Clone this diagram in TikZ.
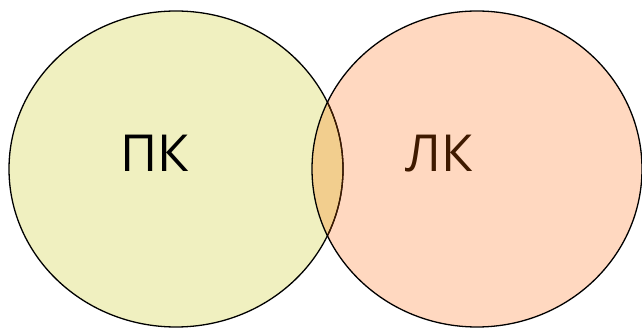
\documentclass[tikz,border=0pt]{standalone}
\usepackage{fontspec}
\setmainfont{Open Sans}
\definecolor{lfill}{HTML}{F0F0C0}
\definecolor{rfill}{HTML}{FFD8C0}
\definecolor{ofill}{HTML}{F2CE8E}
\definecolor{brn}{HTML}{3F1A00}
\begin{document}
\begin{tikzpicture}[x=1pt,y=-1pt,
  lbl/.style={font=\fontsize{51}{51}\selectfont, inner sep=0pt, anchor=base}]
\useasboundingbox (0,0) rectangle (642,328);
\fill[lfill] (176,169) ellipse [x radius=167, y radius=158];
\fill[rfill] (477,169) ellipse [x radius=165, y radius=158];
\begin{scope}
  \clip (176,169) ellipse [x radius=167, y radius=158];
  \fill[ofill] (477,169) ellipse [x radius=165, y radius=158];
\end{scope}
\draw[line width=1.3pt] (176,169) ellipse [x radius=167, y radius=158];
\begin{scope}
  \clip (477,169) ellipse [x radius=165, y radius=158];
  \draw[line width=1.3pt, brn] (176,169) ellipse [x radius=167, y radius=158];
\end{scope}
\draw[line width=1.3pt] (477,169) ellipse [x radius=165, y radius=158];
\node[lbl] (pk) at (154.5,171.7) {ПК};
\node[lbl, text=brn] (lk) at (439.5,171.7) {ЛК};
\end{tikzpicture}
\end{document}
